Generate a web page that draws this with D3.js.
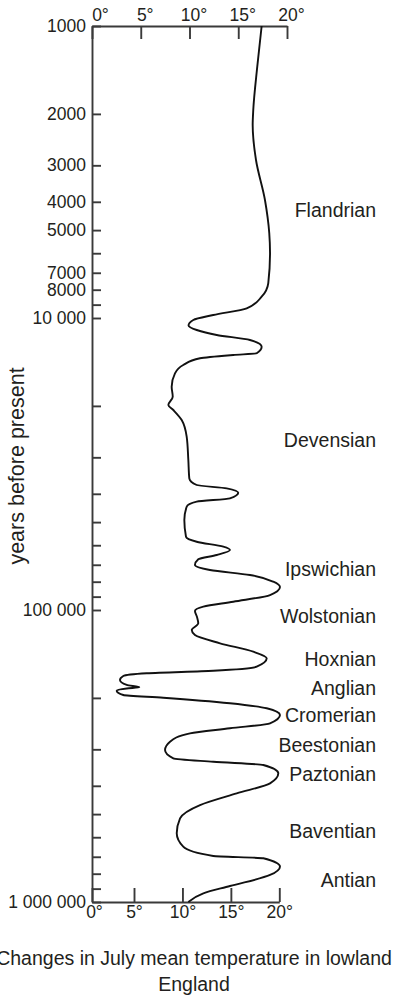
<!DOCTYPE html>
<html><head><meta charset="utf-8">
<script src="https://cdn.jsdelivr.net/npm/d3@7"></script>
<style>
html,body{margin:0;padding:0;background:#fff;}
svg{display:block;background:#fff;}
text{font-family:"Liberation Sans",Arial,Helvetica,sans-serif;fill:#231f20;}
</style></head><body>
<svg id="chart" width="398" height="997"></svg>
<script>
// ---- data ----
const years = [1000,1378,1940,2183,2877,3943,5115,5990,7590,8453,9264,9766,10158,10610,10993,11435,11895,12540,13210,13390,13740,14490,15470,17190,18600,19860,20660,22360,25500,30640,35400,37320,38310,39660,41450,42570,44290,49190,56100,58370,60710,62310,64810,67060,70150,72950,75880,80010,83410,88850,93680,97430,100790,105680,111060,117100,121800,130020,138920,146380,156390,161400,164740,168270,173650,180630,183940,185680,188960,195470,199650,208670,217060,228850,244340,254190,264410,282490,301650,322070,330800,339510,362470,392300,424400,465400,516900,581800,646600,695800,708400,756900,808100,881500,933800,1000000];
const julyTemp = [17.4,16.95,16.54,16.48,16.82,17.74,18.18,18.26,18.08,17.4,15.87,12.44,10.39,9.9,10.74,12.79,16.2,17.4,16.89,14.49,11.08,9.36,8.51,8.17,8.28,7.83,8.34,9.2,9.71,9.88,9.98,10.74,13.82,15.0,14.15,10.74,9.71,9.47,9.64,10.74,13.47,14.15,12.79,10.9,10.56,12.1,16.2,18.6,19.28,18.26,14.49,11.42,10.56,10.77,10.9,10.23,10.56,13.13,16.54,17.92,16.89,12.44,5.61,3.21,2.87,3.56,4.85,3.56,2.53,3.21,7.31,14.15,17.92,19.28,18.26,14.15,10.05,8.0,7.49,8.34,12.44,17.57,19.11,18.26,14.84,11.08,9.03,8.69,9.36,12.44,17.57,19.28,18.26,14.15,11.42,9.88];
const tempTicks = [0,5,10,15,20];
const yearTicks = [1000,2000,3000,4000,5000,6000,7000,8000,9000,10000,20000,30000,40000,50000,60000,70000,80000,90000,100000,200000,300000,400000,500000,600000,700000,800000,900000,1000000];
const yearTickLabels = ["1000","2000","3000","4000","5000","7000","8000","10 000","100 000","1 000 000"];
const yearTickLabelValues = [1000,2000,3000,4000,5000,7000,8000,10000,100000,1000000];
const periods = ["Flandrian","Devensian","Ipswichian","Wolstonian","Hoxnian","Anglian","Cromerian","Beestonian","Paztonian","Baventian","Antian"];
const periodYears = [4257,26120,72380,104600,146800,185000,228300,289300,363600,570000,842500];
const yTitle = "years before present";
const caption = ["Changes in July mean temperature in lowland","England"];

// ---- drawing ----
const svg = d3.select("#chart");
const y = d3.scaleLog().domain([1000,1000000]).range([26,902]);
const xTop = d3.scaleLinear().domain([0,20]).range([92,287]);
const xBot = d3.scaleLinear().domain([0,5,20]).range([92,134,279.3]);
const axisColor = "#3a3a3a";

function styleAxis(g){
  g.attr("font-family",null).attr("font-size",null);
  g.select(".domain").attr("stroke",axisColor).attr("stroke-width",1.9);
  g.selectAll(".tick line").attr("stroke",axisColor).attr("stroke-width",1.9);
  g.selectAll(".tick text").attr("font-size",17.5).attr("fill","#231f20");
}

// left axis
svg.append("g").attr("transform","translate(92,0)")
  .call(d3.axisLeft(y).tickValues(yearTicks).tickSizeInner(-9).tickSizeOuter(0).tickPadding(6)
    .tickFormat(d => { const i = yearTickLabelValues.indexOf(d); return i >= 0 ? yearTickLabels[i] : ""; }))
  .call(styleAxis);

// top axis
svg.append("g").attr("transform","translate(0,26)")
  .call(d3.axisTop(xTop).tickValues(tempTicks).tickSizeInner(-13).tickSizeOuter(0).tickPadding(5)
    .tickFormat(d => d + "°"))
  .call(styleAxis)
  .call(g => g.selectAll(".tick text").attr("dx", d => d === 0 ? 8 : 4));

// bottom axis
svg.append("g").attr("transform","translate(0,902)")
  .call(d3.axisBottom(xBot).tickValues(tempTicks).tickSizeInner(-14).tickSizeOuter(0).tickPadding(4)
    .tickFormat(d => d + "°"))
  .call(styleAxis)
  .call(g => g.selectAll(".tick text").attr("dx", d => d === 0 ? 2 : 0));

// curve
const pts = years.map((yr,i) => ({yr, t: julyTemp[i]}));
const line = d3.line().x(d => xTop(d.t)).y(d => y(d.yr)).curve(d3.curveMonotoneY);
svg.append("path").datum(pts).attr("d",line)
  .attr("fill","none").attr("stroke","#111").attr("stroke-width",1.9);

// period labels
svg.append("g").selectAll("text").data(periods).join("text")
  .attr("x",376).attr("y",(d,i) => y(periodYears[i])).attr("dy","0.36em")
  .attr("text-anchor","end").attr("font-size",19.5).text(d => d);

// y title
svg.append("text").attr("transform","translate(24,466) rotate(-90)")
  .attr("text-anchor","middle").attr("font-size",21.5).text(yTitle);

// caption
svg.append("g").selectAll("text").data(caption).join("text")
  .attr("x",194).attr("y",(d,i) => 964.7 + i*26.5)
  .attr("text-anchor","middle").attr("font-size",19.5).text(d => d);
</script>
</body></html>
